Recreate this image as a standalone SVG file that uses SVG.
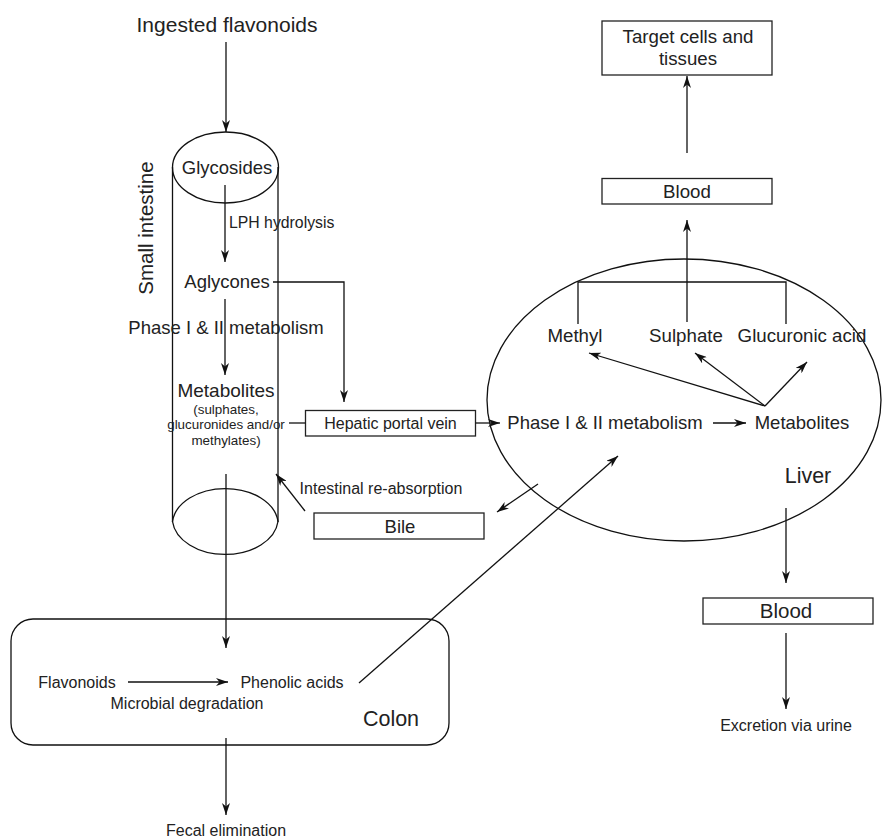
<svg xmlns="http://www.w3.org/2000/svg" width="883" height="838" viewBox="0 0 883 838">
<defs>
<marker id="ah" viewBox="0 0 12 8" refX="12" refY="4" markerWidth="12" markerHeight="8" markerUnits="userSpaceOnUse" orient="auto">
<path d="M0,0 L12,4 L0,8 L3.5,4 z" fill="#111"/>
</marker>
<style>
text{font-family:"Liberation Sans",Arial,sans-serif;fill:#222;text-anchor:middle}
.ln{stroke:#111;stroke-width:1.3;fill:none}
.ar{stroke:#111;stroke-width:1.3;fill:none;marker-end:url(#ah)}
.box{stroke:#222;stroke-width:1.3;fill:#fff}
.shape{stroke:#111;stroke-width:1.3;fill:none}
</style>
</defs>
<rect width="883" height="838" fill="#fff"/>

<g id="ingested"><text x="227" y="32" font-size="21">Ingested flavonoids</text></g>

<g id="small-intestine">
<line class="shape" x1="172.5" y1="167" x2="172.5" y2="522"/>
<line class="shape" x1="278" y1="167" x2="278" y2="522"/>
<ellipse class="shape" cx="225.5" cy="167.5" rx="53" ry="35.5" fill="#fff"/>
<path class="shape" d="M172.5,521.5 A53,36.5 0 0 1 278,521.5 A53,36.5 0 0 1 172.5,521.5"/>
<text x="153" y="228" font-size="20.5" transform="rotate(-90 153 228)">Small intestine</text>
</g>

<g id="glycosides"><text x="227" y="174" font-size="18.5">Glycosides</text></g>
<g id="lph"><text x="229" y="228" font-size="15.8" style="text-anchor:start">LPH hydrolysis</text></g>
<g id="aglycones"><text x="227" y="288" font-size="18.5">Aglycones</text></g>
<g id="phase-si"><text x="226" y="334" font-size="18.5">Phase I &amp; II metabolism</text></g>
<g id="metabolites-si">
<text x="226" y="397" font-size="19">Metabolites</text>
<text x="226" y="414" font-size="13.4">(sulphates,</text>
<text x="226" y="429" font-size="13.4">glucuronides and/or</text>
<text x="226" y="445" font-size="13.4">methylates)</text>
</g>

<g id="hepatic-portal-vein">
<rect class="box" x="305.5" y="410.5" width="170" height="25.5"/>
<text x="390.5" y="429" font-size="16">Hepatic portal vein</text>
</g>

<g id="liver">
<ellipse class="shape" cx="684" cy="400" rx="197" ry="141"/>
<text x="808" y="483" font-size="21.4">Liver</text>
</g>
<g id="phase-liver"><text x="605" y="429" font-size="18.5">Phase I &amp; II metabolism</text></g>
<g id="metabolites-liver"><text x="802" y="429" font-size="18.5">Metabolites</text></g>
<g id="methyl"><text x="575" y="342" font-size="18.7">Methyl</text></g>
<g id="sulphate"><text x="686" y="342" font-size="18.7">Sulphate</text></g>
<g id="glucuronic"><text x="802" y="342" font-size="18.7">Glucuronic acid</text></g>

<g id="blood-top">
<rect class="box" x="602" y="178.5" width="170" height="25.5"/>
<text x="687" y="198" font-size="18.7">Blood</text>
</g>
<g id="target">
<rect class="box" x="602" y="21" width="170" height="54"/>
<text x="688" y="43" font-size="18.7">Target cells and</text>
<text x="688" y="65" font-size="18.7">tissues</text>
</g>

<g id="bile">
<rect class="box" x="314" y="513" width="170" height="26"/>
<text x="400" y="533" font-size="18.5">Bile</text>
</g>
<g id="reabsorption"><text x="381" y="494" font-size="16">Intestinal re-absorption</text></g>

<g id="colon">
<rect class="shape" x="11" y="619" width="438" height="126" rx="22" ry="22"/>
<text x="391" y="726" font-size="21.5">Colon</text>
</g>
<g id="flavonoids"><text x="77" y="688" font-size="16">Flavonoids</text></g>
<g id="phenolic"><text x="292" y="688" font-size="16">Phenolic acids</text></g>
<g id="microbial"><text x="187" y="709" font-size="16">Microbial degradation</text></g>
<g id="fecal"><text x="226" y="836" font-size="16">Fecal elimination</text></g>

<g id="blood-bottom">
<rect class="box" x="703" y="598" width="170" height="26"/>
<text x="786" y="618" font-size="20.5">Blood</text>
</g>
<g id="excretion"><text x="786" y="731" font-size="16">Excretion via urine</text></g>

<g id="connectors">
<line class="ar" x1="226" y1="42" x2="226" y2="132"/>
<line class="ar" x1="225" y1="185" x2="225" y2="262"/>
<line class="ar" x1="225" y1="299" x2="225" y2="375"/>
<polyline class="ar" points="273,282 344,282 344,402"/>
<line class="ln" x1="289" y1="423" x2="305.5" y2="423"/>
<line class="ar" x1="475.5" y1="423" x2="500" y2="423"/>
<line class="ar" x1="713" y1="423" x2="746" y2="423"/>
<line class="ar" x1="765" y1="406" x2="589" y2="353"/>
<line class="ar" x1="765" y1="406" x2="695" y2="353"/>
<line class="ar" x1="765" y1="406" x2="807" y2="362"/>
<polyline class="ln" points="578,324 578,282 786,282 786,324"/>
<line class="ln" x1="687" y1="282" x2="687" y2="322"/>
<line class="ar" x1="687" y1="282" x2="687" y2="220"/>
<line class="ar" x1="687" y1="153" x2="687" y2="76"/>
<line class="ar" x1="538" y1="484" x2="497" y2="512"/>
<line class="ar" x1="305" y1="511" x2="276" y2="474"/>
<line class="ar" x1="226" y1="474" x2="226" y2="648"/>
<line class="ar" x1="128" y1="682" x2="228" y2="682"/>
<line class="ar" x1="359" y1="683" x2="618" y2="456"/>
<line class="ar" x1="226" y1="738" x2="226" y2="815"/>
<line class="ar" x1="786" y1="508" x2="786" y2="583"/>
<line class="ar" x1="786" y1="633" x2="786" y2="709"/>
</g>
</svg>
